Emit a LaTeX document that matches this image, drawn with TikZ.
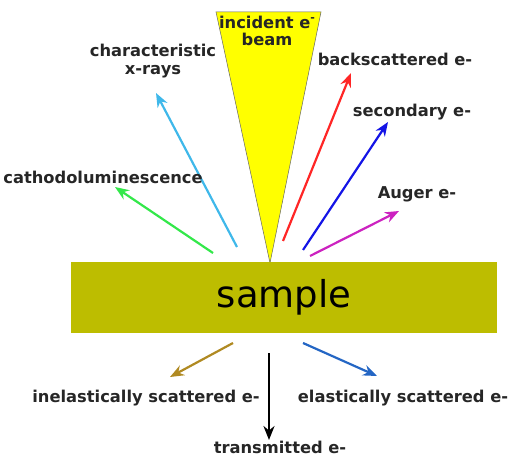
\documentclass[tikz,border=0pt]{standalone}
\usepackage{fontspec}
\setmainfont{DejaVu Sans}
\usetikzlibrary{arrows.meta}
\definecolor{beamyellow}{HTML}{FFFF00}
\definecolor{sampleolive}{HTML}{BDBD00}
\definecolor{cxray}{HTML}{3FB8EA}
\definecolor{cathodo}{HTML}{33E84A}
\definecolor{backsc}{HTML}{FF2626}
\definecolor{second}{HTML}{1414E6}
\definecolor{auger}{HTML}{CC22C0}
\definecolor{inel}{HTML}{B08A22}
\definecolor{elast}{HTML}{2466C4}
\tikzset{
  lbl/.style={font=\fontsize{16.3}{17.5}\selectfont\bfseries, text=black!85, inner sep=0pt, align=center},
  ray/.style={line width=2.2pt, -{Stealth[length=14pt,width=11pt]}},
}
\begin{document}
\begin{tikzpicture}[x=1pt,y=-1pt]
\useasboundingbox (0,0) rectangle (513,457);
% beam
\draw[fill=beamyellow, draw=black!60, line width=0.5pt] (216,12) -- (321,12) -- (270,263) -- cycle;
\node[lbl] (incident) at (267,31) {incident e\raisebox{0.8ex}{\fontsize{11}{11}\selectfont\bfseries -}\\beam};
% sample
\node[draw=none, fill=sampleolive, minimum width=426pt, minimum height=71pt, inner sep=0pt,
      font=\fontsize{37}{40}\selectfont] (sample) at (284,297.5) {sample};
% coordinates
\coordinate (cxT) at (237,247); \coordinate (cxH) at (156,93);
\coordinate (clT) at (213,253); \coordinate (clH) at (115,187);
\coordinate (bsT) at (283,241); \coordinate (bsH) at (351,73);
\coordinate (seT) at (303,250); \coordinate (seH) at (388,122);
\coordinate (auT) at (310,256); \coordinate (auH) at (399,211);
\coordinate (inT) at (233,343); \coordinate (inH) at (170,377);
\coordinate (trT) at (269,353); \coordinate (trH) at (269,440);
\coordinate (elT) at (303,343); \coordinate (elH) at (377,376);
% rays
\draw[ray, cxray] (cxT) -- (cxH);
\draw[ray, cathodo] (clT) -- (clH);
\draw[ray, backsc] (bsT) -- (bsH);
\draw[ray, second] (seT) -- (seH);
\draw[ray, auger] (auT) -- (auH);
\draw[ray, inel] (inT) -- (inH);
\draw[ray, black] (trT) -- (trH);
\draw[ray, elast] (elT) -- (elH);
% labels
\node[lbl] (xr) at (153,61) {characteristic\\x-rays};
\node[lbl] (cl) at (103,177) {cathodoluminescence};
\node[lbl] (bs) at (395,59) {backscattered e-};
\node[lbl] (se) at (412,112) {secondary e-};
\node[lbl] (au) at (417,194) {Auger e-};
\node[lbl] (in) at (146,398) {inelastically scattered e-};
\node[lbl] (el) at (403,398) {elastically scattered e-};
\node[lbl] (tr) at (280,447) {transmitted e-};
\end{tikzpicture}
\end{document}
